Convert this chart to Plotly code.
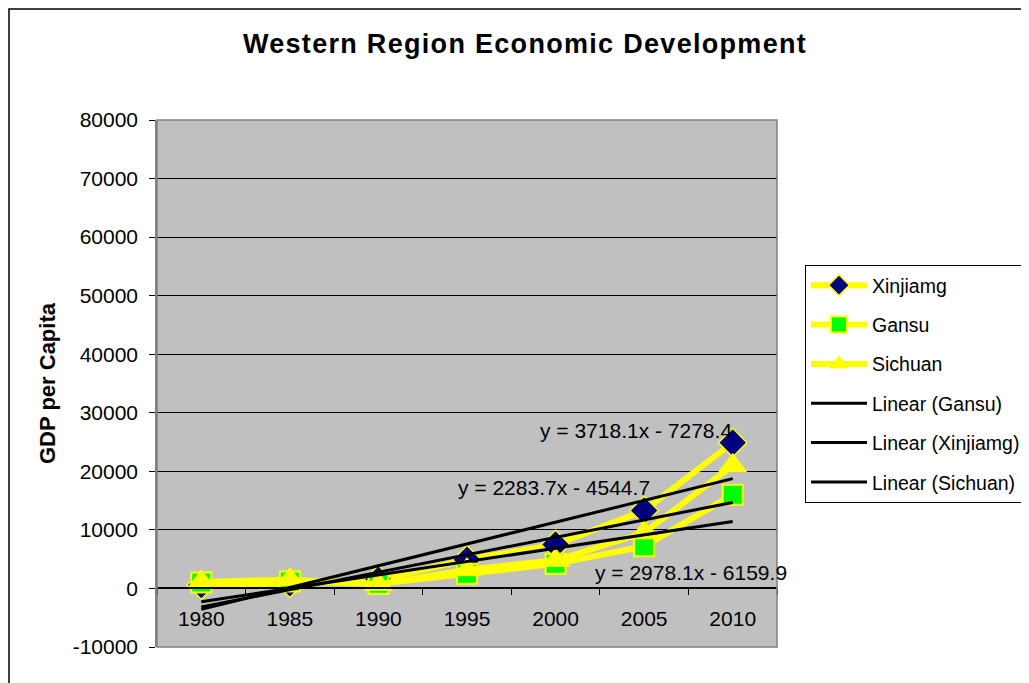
import plotly.graph_objects as go

years = ["1980", "1985", "1990", "1995", "2000", "2005", "2010"]
xinjiang = [600, 900, 1500, 4900, 7500, 13300, 24900]
gansu = [1000, 1200, 800, 2500, 4200, 7200, 16000]
sichuan = [1100, 1500, 700, 3200, 4800, 9500, 21000]

# trendline coefficients (Excel: x = 1..7)
trend_names = ["Gansu", "Xinjiamg", "Sichuan"]
trend_slope = [2283.7, 3718.1, 2978.1]
trend_icept = [-4544.7, -7278.4, -6159.9]

y_ticks = [-10000, 0, 10000, 20000, 30000, 40000, 50000, 60000, 70000, 80000]
y_ticktext = ["-10000", "0", "10000", "20000", "30000", "40000", "50000", "60000", "70000", "80000"]

FONT = "Liberation Sans, Arial, sans-serif"
YELLOW = "#FFFF00"

W, H = 1029, 683
OFF = 8  # page body margin
# plot area in screen pixels
L, R, T, B = 157, 777, 120, 647


def px_x(p):
    return (p - L) / (R - L)


def px_y(p):
    return (B - p) / (B - T)


fig = go.Figure()

fig.add_trace(go.Scatter(
    x=years, y=xinjiang, name="Xinjiamg", mode="lines+markers", legendgroup="a",
    line=dict(color=YELLOW, width=6),
    marker=dict(symbol="diamond", size=22, color="#000080", line=dict(color=YELLOW, width=1.5)),
))
fig.add_trace(go.Scatter(
    x=years, y=gansu, name="Gansu", mode="lines+markers", legendgroup="b",
    line=dict(color=YELLOW, width=6),
    marker=dict(symbol="square", size=20, color="#00FF00", line=dict(color=YELLOW, width=2)),
))
fig.add_trace(go.Scatter(
    x=years, y=sichuan, name="Sichuan", mode="lines+markers", legendgroup="c",
    line=dict(color=YELLOW, width=6),
    marker=dict(symbol="triangle-up", size=24, color=YELLOW, line=dict(color=YELLOW, width=1)),
))

for name, m, c in zip(trend_names, trend_slope, trend_icept):
    ys = [m * (i + 1) + c for i in range(len(years))]
    fig.add_trace(go.Scatter(
        x=years, y=ys, name=f"Linear ({name})", mode="lines", legendgroup=name,
        line=dict(color="black", width=3),
    ))

ann_font = dict(size=21, color="black")
fig.add_annotation(x=6.02, y=27000, xref="x", yref="y", text="y = 3718.1x - 7278.4",
                   showarrow=False, xanchor="right", font=ann_font)
fig.add_annotation(x=5.09, y=17200, xref="x", yref="y", text="y = 2283.7x - 4544.7",
                   showarrow=False, xanchor="right", font=ann_font)
fig.add_annotation(x=4.42, y=2700, xref="x", yref="y", text="y = 2978.1x - 6159.9",
                   showarrow=False, xanchor="left", font=ann_font)

# plot area frame and outer chart border
fig.add_shape(type="rect", xref="paper", yref="paper", x0=0, x1=1, y0=0, y1=1,
              line=dict(color="#808080", width=1.5), layer="above")
fig.add_shape(type="rect", xref="paper", yref="paper",
              x0=px_x(9), x1=px_x(1100), y0=px_y(760), y1=px_y(9),
              line=dict(color="black", width=1.5))

fig.update_layout(
    width=W, height=H,
    margin=dict(l=L - OFF, r=W - (R - OFF), t=T - OFF, b=H - (B - OFF), autoexpand=False),
    paper_bgcolor="white",
    plot_bgcolor="#C0C0C0",
    font=dict(family=FONT, size=21, color="black"),
    title=dict(text="<b><span style='letter-spacing:1.3px'>Western Region Economic Development</span></b>",
               x=(525 - OFF) / W, xanchor="center",
               y=1 - (44 - OFF) / H, yanchor="middle", font=dict(size=27, color="black")),
    showlegend=True,
    legend=dict(x=px_x(805), y=px_y(265), xanchor="left", yanchor="top",
                bgcolor="white", bordercolor="black", borderwidth=1,
                font=dict(size=19.5, color="black"), itemwidth=56,
                traceorder="grouped", tracegroupgap=11),
    xaxis=dict(type="category", range=[-0.5, 6.5], anchor="free", position=10000 / 90000,
               showline=True, linecolor="black", linewidth=1.5,
               ticks="outside", tickson="boundaries", ticklen=6, tickcolor="black",
               ticklabelstandoff=12,
               showgrid=False, zeroline=False, tickfont=dict(size=21)),
    yaxis=dict(range=[-10000, 80000], tickvals=y_ticks, ticktext=y_ticktext,
               showgrid=True, gridcolor="black", gridwidth=1,
               zeroline=True, zerolinecolor="black", zerolinewidth=1.5,
               showline=True, linecolor="#808080", linewidth=1.5,
               ticks="outside", ticklen=6, tickcolor="black", tickfont=dict(size=21),
               ticklabelstandoff=7,
               title=dict(text="<b>GDP per Capita</b>", font=dict(size=22), standoff=11)),
)

fig.write_html("out.html")
